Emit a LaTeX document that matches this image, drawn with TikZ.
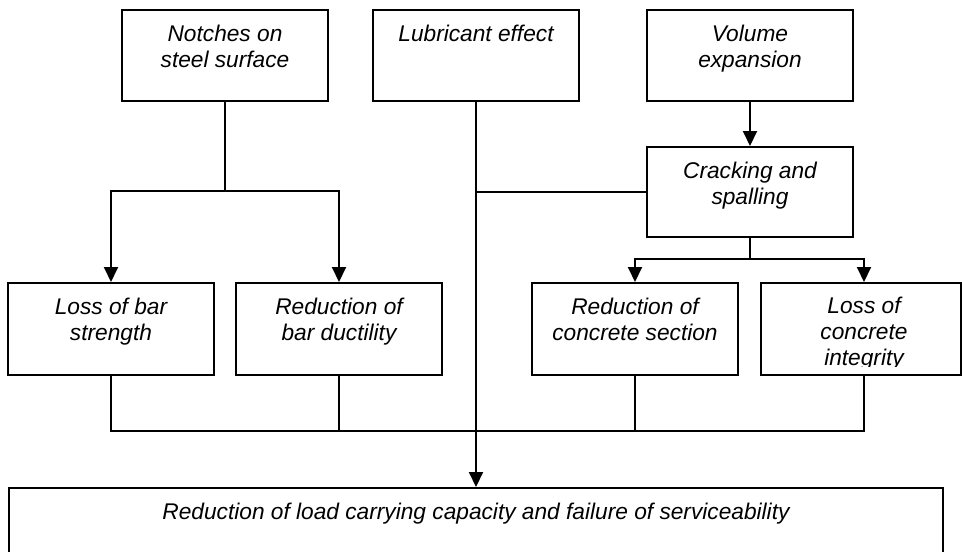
\documentclass[tikz,border=0pt]{standalone}
\usepackage{fontspec}
\setmainfont{Liberation Sans}
\usetikzlibrary{arrows.meta,calc}
\newcommand\bxt[3]{\parbox[t][#2][t]{#1}{\centering\vspace*{13pt}\rule{0pt}{18pt}#3}}
\begin{document}
\begin{tikzpicture}[x=1pt,y=-1pt,
  bx/.style={draw, line width=2pt, inner sep=0pt, anchor=north,
    font=\fontsize{22.7}{26}\selectfont\itshape},
  txt/.style={inner sep=0pt, anchor=north, font=\fontsize{22.7}{26}\selectfont\itshape},
  ln/.style={line width=2pt},
  arr/.style={line width=2pt, -{Triangle[width=14pt,length=15pt]}}]
\useasboundingbox (0,0) rectangle (962,552);
\clip (0,0) rectangle (962,552);
% top row
\node[bx] (notch) at (225,9) {\bxt{206pt}{91pt}{Notches on\\steel surface}};
\node[bx] (lub) at (476,9) {\bxt{206pt}{91pt}{Lubricant effect}};
\node[bx] (vol) at (750,9) {\bxt{206pt}{91pt}{Volume\\expansion}};
\node[bx] (crack) at (750,146) {\bxt{206pt}{90pt}{Cracking and\\spalling}};
% second row
\node[bx] (lbs) at (111,282) {\bxt{206pt}{92pt}{Loss of bar\\strength}};
\node[bx] (rbd) at (339,282) {\bxt{206pt}{92pt}{Reduction of\\bar ductility}};
\node[bx] (rcs) at (635,282) {\bxt{206pt}{92pt}{Reduction of\\concrete section}};
\node[bx] (lci) at (861,282) {\bxt{200pt}{92pt}{}};
\begin{scope}
\clip (762,283) rectangle (960,366);
\node[txt] (lcit) at (864,282) {\bxt{206pt}{92pt}{Loss of\\concrete\\integrity}};
\end{scope}
% bottom
\node[bx] (bot) at (476,487) {\bxt{934pt}{80pt}{Reduction of load carrying capacity and failure of serviceability}};
% junction coordinates
\coordinate (j1) at (225,191);
\coordinate (j2) at (750,259);
\coordinate (j3) at (476,431);
\coordinate (lcin) at (864,282);
\coordinate (lcis) at (864,374);
% connectors
\draw[ln] (notch.south) -- (j1);
\draw[arr] (j1) -| (lbs.north);
\draw[arr] (j1) -| (rbd.north);
\draw[arr] (lub.south) -- (bot.north);
\draw[ln] (crack.west) -- (crack.west -| lub.south);
\draw[arr] (vol.south) -- (crack.north);
\draw[ln] (crack.south) -- (j2);
\draw[arr] (j2) -| (rcs.north);
\draw[arr] (j2) -| (lcin);
\draw[ln] (lbs.south) |- (j3);
\draw[ln] (rbd.south) -- (rbd.south |- j3);
\draw[ln] (rcs.south) -- (rcs.south |- j3);
\draw[ln] (lcis) |- (j3);
\end{tikzpicture}
\end{document}
